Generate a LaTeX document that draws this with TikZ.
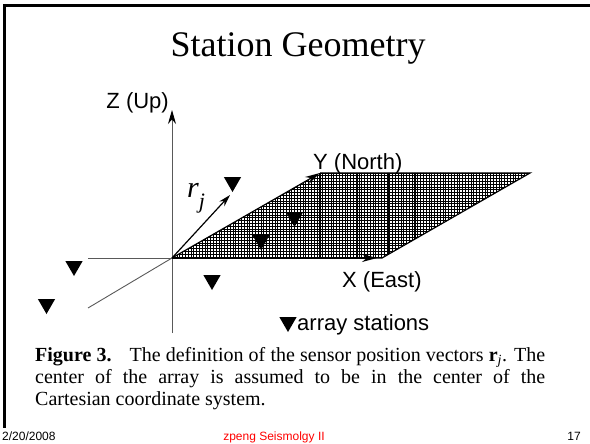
\documentclass[tikz,border=0pt]{standalone}
\usepackage{fontspec}
\setmainfont{Liberation Serif}
\newfontfamily\arialf{Liberation Sans}
\usetikzlibrary{shapes.geometric,arrows.meta}
\begin{document}
\begin{tikzpicture}[x=1pt,y=-1pt,
  station/.style={regular polygon, regular polygon sides=3, shape border rotate=180, fill=black, inner sep=0pt, minimum size=20pt},
  axlabel/.style={font=\arialf\fontsize{22}{22}\selectfont, inner sep=0pt},
  footer/.style={font=\arialf\fontsize{12}{12}\selectfont, inner sep=0pt},
  captext/.style={font=\fontsize{20}{20}\selectfont, inner sep=0pt, anchor=base west},
  thinax/.style={draw=black!65, line width=0.9pt},
  edge/.style={line width=1.2pt},
  hatch/.style={line width=0.4pt},
  bigarrow/.style={-{Stealth[length=15pt,width=8pt,black]}, line width=1.2pt}]
\useasboundingbox (0,0) rectangle (590,444);
% frame
\draw[line width=3pt] (3,5.3) -- (590,5.3);
\draw[line width=3pt] (4.3,3.8) -- (4.3,428);
% title
\node[anchor=base, font=\fontsize{36}{36}\selectfont, inner sep=0pt] (title) at (298,57) {Station Geometry};
% geometry
\coordinate (O) at (172,258);
\coordinate (Ytip) at (320,173);
\coordinate (TR) at (530,173);
\coordinate (XR) at (382,258);
\coordinate (Xtip) at (377,258);
\coordinate (Ztip) at (172,110);
\coordinate (Zbot) at (172,333);
\coordinate (Xneg) at (88,258);
\coordinate (Yneg) at (88,308);
\coordinate (Rtip) at (230,195);
% hatched plane
\begin{scope}
  \clip (O) -- (Ytip) -- (TR) -- (XR) -- cycle;
  \foreach \i in {0,...,136}
    \draw[hatch] (160+2.8*\i,165) -- (160+2.8*\i,265);
  \foreach \j in {0,...,33}
    \draw[hatch] (165,170+2.8*\j) -- (540,170+2.8*\j);
  \foreach \xx in {263,294,320,357,388,414,440}
    \draw[line width=0.7pt] (\xx,165) -- (\xx,265);
\end{scope}
\draw[edge] (Ytip) -- (TR) -- (XR) -- (O);
% axes
\draw[thinax] (Xneg) -- (O);
\draw[thinax] (Yneg) -- (O);
\draw[thinax, -{Stealth[length=14pt,width=8pt,black]}] (Zbot) -- (Ztip);
\draw[bigarrow] (O) -- (Ytip);
\draw[bigarrow] (O) -- (Xtip);
\draw[-{Stealth[length=12pt,width=7pt]}, line width=1.2pt] (O) -- (Rtip);
% labels
\node[axlabel, anchor=base east] (zlab) at (169,109) {Z (Up)};
\node[axlabel, anchor=base west] (ylab) at (313,170) {Y (North)};
\node[axlabel, anchor=base west] (xlab) at (342,287) {X (East)};
\node[anchor=base west, inner sep=0pt, font=\fontsize{30}{30}\selectfont\itshape] (rj) at (187,197) {r\raisebox{-11pt}{\fontsize{22}{22}\selectfont j}};
% stations
\node[station] (s1) at (232.5,182) {};
\node[station] (s2) at (294.5,217) {};
\node[station] (s3) at (261,240) {};
\node[station] (s4) at (74,266) {};
\node[station] (s5) at (46.5,304) {};
\node[station] (s6) at (212,280) {};
\node[station] (leg) at (288,322) {};
\node[axlabel, anchor=base west] (legtext) at (297,330) {array stations};
% caption
\node[captext] (cap1) at (35,361) {\makebox[510pt][s]{\textbf{Figure 3.}\hspace{0.9em}The definition of the sensor position vectors \textbf{r}\textsubscript{\textit{j}}. The}};
\node[captext] (cap2) at (35,383) {\makebox[510pt][s]{center of the array is assumed to be in the center of the}};
\node[captext] (cap3) at (35,405) {Cartesian coordinate system.};
% footer
\node[footer, anchor=base west] (date) at (2,440) {2/20/2008};
\node[footer, anchor=base, text=red] (course) at (274,440) {zpeng Seismolgy II};
\node[footer, anchor=base east] (page) at (581,440) {17};
\end{tikzpicture}
\end{document}
